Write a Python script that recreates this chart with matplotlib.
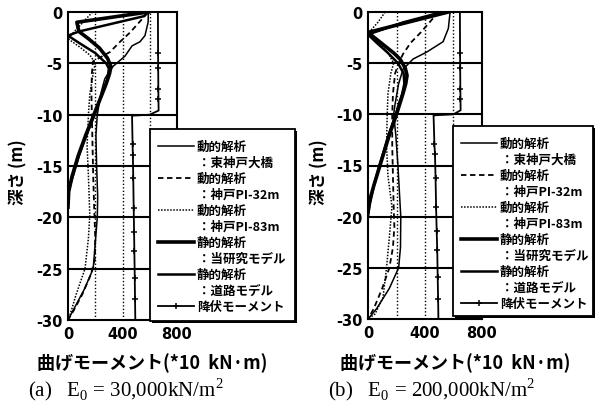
import matplotlib
matplotlib.use("Agg")
import matplotlib.pyplot as plt
from matplotlib.lines import Line2D
from matplotlib.patches import Rectangle

plt.rcParams["font.family"] = ["Noto Sans CJK JP", "DejaVu Sans"]

# ---- data: bending moment (*10 kN.m) vs depth (m) ----
# (a) E0 = 30,000 kN/m2
dyn_kobe_bridge_a_d = [0, -1, -2.3, -2.9, -3.3, -4.3, -5.3, -6.5, -8, -10, -12, -15, -18, -20, -22.5, -25, -27, -29, -30]
dyn_kobe_bridge_a_m = [590, 588, 565, 528, 470, 418, 330, 270, 240, 215, 205, 210, 218, 215, 200, 185, 120, 40, 0]
dyn_pi32_a_d = [0, -0.7, -2.0, -2.9, -3.9, -4.8, -6, -8, -10, -13, -16, -19, -22, -24, -25.5, -27.5, -29, -30]
dyn_pi32_a_m = [580, 543, 455, 382, 308, 184, 175, 172, 175, 180, 185, 192, 200, 198, 170, 105, 45, 0]
dyn_pi83_a_d = [0, -1, -2, -2.6, -3.5, -4.2, -5, -6, -8, -10, -13, -16, -19.8, -22, -25, -27.5, -29.5, -30]
dyn_pi83_a_m = [180, 110, 40, 0, 95, 161, 200, 185, 160, 150, 140, 150, 160, 150, 125, 60, 15, 0]
st_ours_a_d = [0, -1.0, -1.9, -2.6, -3.5, -4.5, -5.3, -6, -7, -8, -10, -12, -14, -16, -17.5, -19]
st_ours_a_m = [590, 65, 80, 150, 230, 290, 315, 305, 280, 250, 190, 130, 75, 30, 5, 0]
st_road_a_d = [0, -0.4, -1.9, -2.3, -3, -4, -5, -5.5, -6.5, -8, -10, -12, -14, -16, -17.5]
st_road_a_m = [590, 560, 80, 0, 80, 200, 280, 300, 290, 250, 195, 135, 80, 35, 0]
yield_a_d = [0, -4, -5.5, -7.5, -8.5, -9.6, -10, -10.1, -12.9, -13.9, -16.2, -19.1, -21.4, -23.3, -25.9, -28, -30]
yield_a_m = [660, 661, 662, 663, 664, 665, 600, 470, 474, 476, 479, 482, 485, 487, 490, 492, 494]

# (b) E0 = 200,000 kN/m2
dyn_kobe_bridge_b_d = [0, -1.6, -2.9, -3.9, -4.6, -5.6, -7, -9, -10, -12, -15, -18, -20, -23, -25, -27, -29, -30]
dyn_kobe_bridge_b_m = [576, 564, 527, 414, 316, 246, 215, 190, 180, 195, 210, 222, 230, 228, 215, 150, 60, 0]
dyn_pi32_b_d = [0, -0.4, -2, -3, -4.1, -5, -6, -8, -10, -13, -16, -19, -21, -23, -25, -27, -29, -30]
dyn_pi32_b_m = [500, 470, 370, 300, 246, 215, 190, 175, 170, 170, 175, 180, 185, 175, 150, 100, 40, 0]
dyn_pi83_b_d = [0, -1, -2.1, -3, -4, -5, -6, -8, -10, -13, -16, -19, -22, -25, -27.9, -29.5, -30]
dyn_pi83_b_m = [120, 70, 0, 70, 140, 180, 160, 140, 135, 130, 140, 168, 150, 130, 105, 50, 0]
st_ours_b_d = [0, -1, -2, -3, -4, -4.6, -5.5, -6.2, -7, -8, -10, -12, -15, -17, -18.5, -19.5]
st_ours_b_m = [564, 280, 0, 90, 180, 225, 262, 274, 265, 245, 200, 150, 84, 40, 10, 0]
st_road_b_d = [0, -1, -2.2, -3, -4, -5, -6, -7, -8, -10, -12, -15, -17, -19, -20]
st_road_b_m = [520, 250, 0, 60, 140, 210, 250, 255, 240, 195, 145, 80, 40, 10, 0]
yield_b_d = [0, -4, -5.5, -7.5, -8.5, -9.6, -10, -10.1, -12.9, -13.9, -16.2, -19.1, -21.4, -23.3, -25.9, -28, -30]
yield_b_m = [645, 646, 647, 648, 649, 650, 600, 460, 466, 470, 474, 478, 482, 486, 489, 492, 494]
yield_marks = [1, 2, 3, 4, 8, 9, 10, 11, 12, 13, 14, 15]

labels = ["動的解析\n：東神戸大橋", "動的解析\n：神戸PI-32m", "動的解析\n：神戸PI-83m",
          "静的解析\n：当研究モデル", "静的解析\n：道路モデル", "降伏モーメント"]
x_ticks = [0, 400, 800]
y_ticks = [0, -5, -10, -15, -20, -25, -30]

styles = [
    dict(color="k", lw=1.1, ls="-"),
    dict(color="k", lw=1.3, ls=(0, (3, 2))),
    dict(color="k", lw=1.1, ls=(0, (1, 1))),
    dict(color="k", lw=2.6, ls="-"),
    dict(color="k", lw=1.8, ls="-"),
    dict(color="k", lw=1.3, ls="-", marker="+", ms=4, mew=1.1),
]

W, H = 600, 410
fig = plt.figure(figsize=(W / 100, H / 100), dpi=100)


def fx(x):
    return x / W


def fy(y):
    return 1 - y / H


def panel(left, right, top, bottom, curves, ydata, box, caption, ylab_x, xlab_cx):
    ax = fig.add_axes([fx(left), fy(bottom), fx(right - left), (bottom - top) / H])
    for (d, m), st in zip(curves, styles[:5]):
        ax.plot(m, d, **st)
    ax.plot(ydata[1], ydata[0], markevery=yield_marks, **styles[5])

    for y in y_ticks[1:-1]:
        ax.axhline(y, color="k", lw=1.5)
    for x in [200, 400, 600]:
        ax.axvline(x, color="k", lw=1.0, ls=(0, (1, 1.5)))

    ax.set_xlim(0, 800)
    ax.set_ylim(-30, 0)
    ax.set_xticks(x_ticks)
    ax.set_yticks(y_ticks)
    ax.set_xticklabels([str(v) for v in x_ticks], fontsize=10.5, fontweight="bold", family="DejaVu Sans")
    ax.set_yticklabels([str(v) for v in y_ticks], fontsize=10.5, fontweight="bold", family="DejaVu Sans")
    ax.tick_params(length=0, pad=4)
    for s in ax.spines.values():
        s.set_linewidth(1.5)

    # legend box with drop shadow
    x0, y0, x1, y1 = box
    fig.add_artist(Rectangle((fx(x0 + 2), fy(y1 + 2)), fx(x1 - x0), (y1 - y0) / H,
                             transform=fig.transFigure, facecolor="k", zorder=5))
    fig.add_artist(Rectangle((fx(x0), fy(y1)), fx(x1 - x0), (y1 - y0) / H,
                             transform=fig.transFigure, facecolor="white", edgecolor="k",
                             lw=1.3, zorder=6))
    for i, (lab, st) in enumerate(zip(labels, styles)):
        ry = y0 + 17 + 32 * i
        ln = Line2D([fx(x0 + 8), fx(x0 + 26), fx(x0 + 44)], [fy(ry)] * 3,
                    transform=fig.transFigure, zorder=7, **st)
        if "marker" in st:
            ln.set_markevery([1])
        fig.add_artist(ln)
        for j, part in enumerate(lab.split("\n")):
            tx = x0 + 47 if j == 0 else x0 + 48
            fig.text(fx(tx), fy(ry + 16 * j), part, fontsize=9, fontweight="bold",
                     ha="left", va="center", zorder=8)

    fig.text(fx(ylab_x), fy(172), "深さ (m)", rotation=90, fontsize=12, fontweight="bold",
             ha="center", va="center")
    fig.text(fx(xlab_cx), fy(363), "曲げモーメント(*10  kN·m)", fontsize=13, fontweight="bold",
             ha="center", va="center")
    fig.text(fx(left - 40), fy(390), caption, fontsize=15, family="Liberation Serif",
             ha="left", va="center")


panel(68, 177, 13, 321,
      [(dyn_kobe_bridge_a_d, dyn_kobe_bridge_a_m), (dyn_pi32_a_d, dyn_pi32_a_m),
       (dyn_pi83_a_d, dyn_pi83_a_m), (st_ours_a_d, st_ours_a_m), (st_road_a_d, st_road_a_m)],
      (yield_a_d, yield_a_m), (150, 130, 295, 322),
      r"(a)   E$_\mathregular{0}$ = 30,000kN/m$^\mathregular{2}$", 18, 152)
panel(368, 482, 13, 320,
      [(dyn_kobe_bridge_b_d, dyn_kobe_bridge_b_m), (dyn_pi32_b_d, dyn_pi32_b_m),
       (dyn_pi83_b_d, dyn_pi83_b_m), (st_ours_b_d, st_ours_b_m), (st_road_b_d, st_road_b_m)],
      (yield_b_d, yield_b_m), (453, 127, 593, 317),
      r"(b)   E$_\mathregular{0}$ = 200,000kN/m$^\mathregular{2}$", 319, 455)

fig.savefig("out.png", dpi=100)
